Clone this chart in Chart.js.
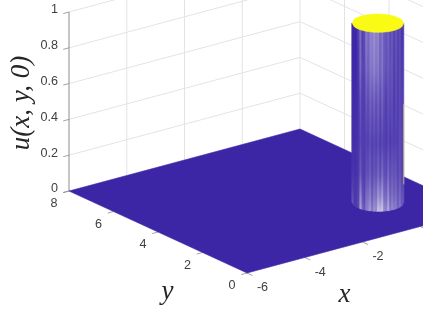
<!DOCTYPE html>
<html>
<head>
<meta charset="utf-8">
<style>html,body{margin:0;padding:0;background:#fff}canvas{display:block}</style>
<script src="https://cdn.jsdelivr.net/npm/chart.js@4"></script>
</head>
<body>
<canvas id="c" width="423" height="317"></canvas>
<script>
// ---- values ----
const xTicks = [-6, -4, -2, 0];
const yTicks = [0, 2, 4, 6, 8];
const zTicks = [0, 0.2, 0.4, 0.6, 0.8, 1];
const xTickLabels = ['-6', '-4', '-2'];
const yTickLabels = ['0', '2', '4', '6', '8'];
const zTickLabels = ['0', '0.2', '0.4', '0.6', '0.8', '1'];
const xLimits = [-6, 2];
const yLimits = [0, 8];
// rim of the raised disc (u = 1), front half, left to right
const rimFrontX = [-0.332,-0.454,-0.473,-0.475,-0.468,-0.453,-0.433,-0.410,-0.381,-0.350,-0.316,-0.280,-0.240,-0.198,-0.154,-0.106,-0.056,-0.004,0.051,0.110,0.171,0.239,0.310,0.389,0.477,0.584,0.792];
const rimFrontY = [2.633,2.382,2.264,2.171,2.091,2.019,1.955,1.897,1.844,1.794,1.748,1.707,1.668,1.633,1.602,1.573,1.548,1.528,1.510,1.497,1.489,1.487,1.491,1.505,1.532,1.582,1.767];
// rim, back half, right to left
const rimBackX = [0.914,0.933,0.935,0.928,0.913,0.893,0.870,0.841,0.810,0.776,0.740,0.700,0.658,0.614,0.566,0.516,0.464,0.409,0.350,0.289,0.221,0.150,0.071,-0.017,-0.124];
const rimBackY = [2.018,2.136,2.229,2.309,2.381,2.445,2.503,2.556,2.606,2.652,2.693,2.732,2.767,2.798,2.827,2.852,2.872,2.890,2.903,2.911,2.913,2.909,2.895,2.868,2.818];
// streaky shading of the steep wall: heights and % lightening of each facet there
const wallStopZ = [0.01, 0.08, 0.2, 0.38, 0.6, 0.8, 0.97];
const wallStop0 = [22,8,10,14,62,22,30,32,58,35,46,38,60,66,72,58,44,50,55,34,40,42,30,32,28,24];
const wallStop1 = [14,8,9,10,48,16,22,26,44,26,34,28,48,44,50,44,32,38,42,26,30,32,24,26,22,20];
const wallStop2 = [6,5,5,7,24,11,14,16,26,18,20,16,28,24,22,28,20,22,28,18,20,24,16,18,16,15];
const wallStop3 = [3,3,3,6,14,12,11,9,16,13,14,11,16,13,12,11,14,9,14,9,12,14,9,16,14,16];
const wallStop4 = [2,2,2,5,20,10,15,18,20,22,25,20,24,22,18,22,16,14,16,18,12,12,14,14,12,14];
const wallStop5 = [0,0,0,8,32,10,22,30,28,35,42,35,42,30,32,28,25,22,20,22,15,14,16,15,12,10];
const wallStop6 = [0,0,0,14,30,8,26,36,30,40,46,40,46,35,30,32,25,25,22,20,18,15,18,15,12,8];
const wallStops = [wallStop0, wallStop1, wallStop2, wallStop3, wallStop4, wallStop5, wallStop6];
// fine 1-pixel streaks on the facet borders, % lighter or darker than their neighbours
const streakOffset = [0,0,0,4,10,-6,-5,8,-4,9,-6,10,-7,8,-6,11,-5,-8,7,-6,8,-5,6,-6,7,-4,0];

// ---- orthographic view of the 3-D box onto the two linear scales ----
const PX_X = 28.875, PX_YH = 22.25, PX_XV = 7.75, PX_YV = 10.25, PX_Z = 179;
const LEFT = 69, BASE = 191, W = 423, H = 317;
function project(x, y, z) {
  return {
    x: (x - xLimits[0]) + (yLimits[1] - y) * PX_YH / PX_X,
    y: z + (PX_XV * (x - xLimits[0]) - PX_YV * (yLimits[1] - y)) / PX_Z
  };
}
const BLUE = [60, 38, 166], YELLOW = '#f9fb15', GRID = '#e3e3e3', AXIS = '#8c8c8c', TEXT = '#404040', TITLE = '#262626';
function tint(p) {
  const q = Math.max(0, p);
  const m = BLUE.map(c => Math.round(c + (255 - c) * q / 100));
  return `rgb(${m[0]},${m[1]},${m[2]})`;
}
// vertical shading of one wall facet, resolved through the chart's y scale
function wallPaint(shadeAt, x, y) {
  return (ctx) => {
    const sc = ctx.chart.scales;
    if (!sc.y) return tint(0);
    const top = sc.y.getPixelForValue(project(x, y, 1).y);
    const bottom = sc.y.getPixelForValue(project(x, y, 0).y);
    if (!Number.isFinite(top) || !Number.isFinite(bottom)) return tint(0);
    const g = ctx.chart.ctx.createLinearGradient(0, bottom, 0, top);
    wallStopZ.forEach((z, s) => g.addColorStop(z, tint(shadeAt(s))));
    return g;
  };
}
const datasets = [];
function line(pts, color, width) {
  datasets.push({ data: pts, showLine: true, borderColor: color, borderWidth: width, pointRadius: 0, fill: false, tension: 0, clip: false });
}
function poly(pts, color, edge) {
  datasets.push({ data: pts, showLine: true, borderColor: edge || color, borderWidth: 0.6, backgroundColor: color, pointRadius: 0, fill: 'shape', tension: 0, clip: false });
}
const [x0, x1] = xLimits, [y0, y1] = yLimits;
const zTop = zTicks[zTicks.length - 1];
// back walls
zTicks.slice(1).forEach(z => {
  line([project(x0, y1, z), project(x1, y1, z), project(x1, y0, z)], GRID, 1);
});
xTicks.slice(1).forEach(x => line([project(x, y1, 0), project(x, y1, zTop)], GRID, 1));
yTicks.slice(1, -1).forEach(y => line([project(x1, y, 0), project(x1, y, zTop)], GRID, 1));
line([project(x1, y1, 0), project(x1, y1, zTop)], GRID, 1);
// axes and ticks
line([project(x0, y1, 0), project(x0, y1, zTop)], AXIS, 1);
zTicks.forEach(z => line([project(x0, y1, z), project(x0 - 0.2, y1, z)], AXIS, 0.8));
yTicks.forEach(y => line([project(x0, y, 0), project(x0 - 0.2, y, 0)], AXIS, 0.8));
xTicks.forEach(x => line([project(x, y0, 0), project(x, y0 - 0.25, 0)], AXIS, 0.8));
// floor of the surface
poly([project(x0, y0, 0), project(x1, y0, 0), project(x1, y1, 0), project(x0, y1, 0), project(x0, y0, 0)], tint(0));
// steep wall: one facet per rim segment
wallStop0.forEach((_, i) => {
  const mx = (rimFrontX[i] + rimFrontX[i + 1]) / 2, my = (rimFrontY[i] + rimFrontY[i + 1]) / 2;
  const paint = wallPaint(s => wallStops[s][i], mx, my);
  poly([
    project(rimFrontX[i], rimFrontY[i], 0),
    project(rimFrontX[i + 1], rimFrontY[i + 1], 0),
    project(rimFrontX[i + 1], rimFrontY[i + 1], zTop),
    project(rimFrontX[i], rimFrontY[i], zTop),
    project(rimFrontX[i], rimFrontY[i], 0)
  ], paint, paint);
});
// fine streaks on the borders between facets
streakOffset.forEach((d, i) => {
  if (!d) return;
  const paint = wallPaint(s => (wallStops[s][i - 1] + wallStops[s][i]) / 2 + d * (s < 2 ? 1.5 : s === 3 ? 0.6 : 1), rimFrontX[i], rimFrontY[i]);
  datasets.push({
    data: [project(rimFrontX[i], rimFrontY[i], 0), project(rimFrontX[i], rimFrontY[i], zTop)],
    showLine: true, borderColor: paint, borderWidth: 0.9, pointRadius: 0, fill: false, tension: 0, clip: false
  });
});
// thin yellow glint on the right edge of the wall
line([project(rimFrontX[26], rimFrontY[26], 0.1), project(rimFrontX[26], rimFrontY[26], 0.55)], 'rgba(240,215,110,0.7)', 1);
// top of the disc
const capPts = rimFrontX.map((x, i) => project(x, rimFrontY[i], zTop))
  .concat(rimBackX.map((x, i) => project(x, rimBackY[i], zTop)));
capPts.push(capPts[0]);
poly(capPts, YELLOW);

// Chart.js paints the first dataset last, so reverse the painter's order
datasets.reverse();

const textPlugin = {
  id: 'boxText',
  afterDatasetsDraw(chart) {
    const { ctx, scales } = chart;
    const at = (x, y, z) => { const p = project(x, y, z); return [scales.x.getPixelForValue(p.x), scales.y.getPixelForValue(p.y)]; };
    ctx.save();
    ctx.fillStyle = TEXT;
    ctx.font = '12.6px "Liberation Sans", Arial, sans-serif';
    ctx.textBaseline = 'middle';
    ctx.textAlign = 'right';
    zTicks.forEach((z, i) => { const [a, b] = at(x0, y1, z); ctx.fillText(zTickLabels[i], a - 11, b - 2); });
    ctx.textAlign = 'center';
    yTicks.forEach((y, i) => { const [a, b] = at(x0, y, 0); ctx.fillText(yTickLabels[i], a - 15, b + 13); });
    xTickLabels.forEach((t, i) => { const [a, b] = at(xTicks[i], y0, 0); ctx.fillText(t, a + 15.5, b + 15); });
    ctx.fillStyle = TITLE;
    ctx.font = 'italic 27px "Liberation Serif", serif';
    ctx.fillText('x', 344.5, 295);
    ctx.fillText('y', 167.5, 291.5);
    ctx.translate(22, 103);
    ctx.rotate(-Math.PI / 2);
    ctx.fillText('u(x, y, 0)', 0, 0);
    ctx.restore();
  }
};

new Chart(document.getElementById('c'), {
  type: 'scatter',
  data: { datasets },
  plugins: [textPlugin],
  options: {
    responsive: false,
    animation: false,
    events: [],
    layout: { padding: 0 },
    plugins: { legend: { display: false }, tooltip: { enabled: false }, title: { display: false } },
    scales: {
      x: { type: 'linear', display: false, min: -LEFT / PX_X, max: (W - LEFT) / PX_X },
      y: { type: 'linear', display: false, min: (BASE - H) / PX_Z, max: BASE / PX_Z }
    }
  }
});
</script>
</body>
</html>
